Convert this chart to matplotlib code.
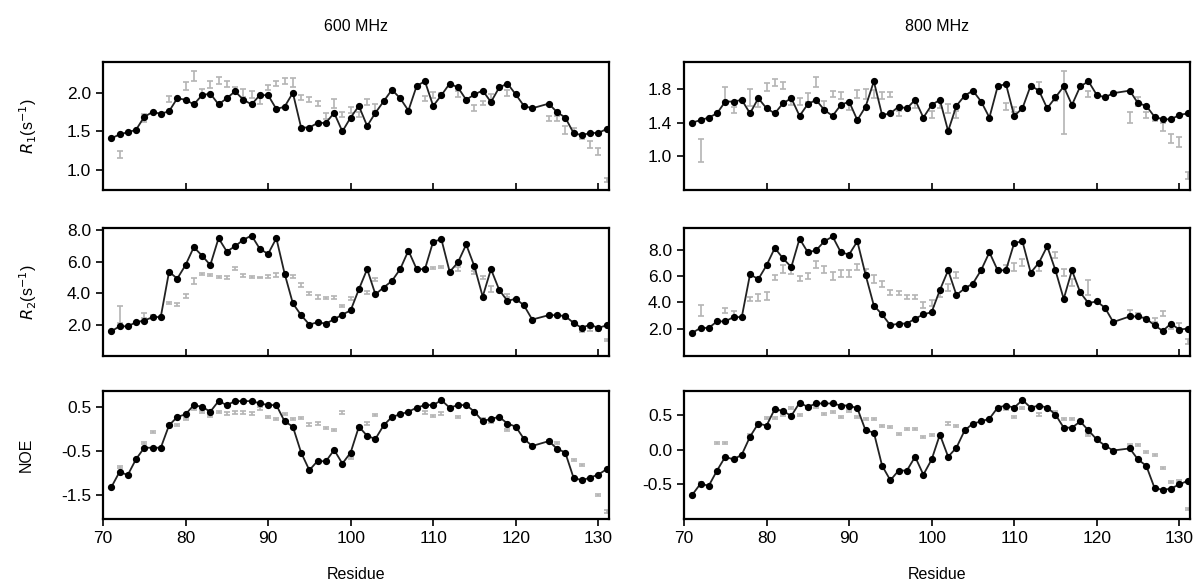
import matplotlib
matplotlib.use("Agg")
import matplotlib.pyplot as plt

plt.rcParams['font.family'] = ['Liberation Sans', 'DejaVu Sans']

# residues with calculated values (123 missing)
residues = list(range(71, 123)) + list(range(124, 132))

# calculated (black line) values
r1_600 = [1.41, 1.46, 1.49, 1.52, 1.69, 1.75, 1.73, 1.76, 1.93, 1.91, 1.85, 1.97, 1.99, 1.85, 1.93,
          2.02, 1.91, 1.85, 1.97, 1.97, 1.79, 1.82, 2.00, 1.55, 1.55, 1.61, 1.61, 1.74, 1.50, 1.68,
          1.83, 1.57, 1.74, 1.89, 2.04, 1.93, 1.77, 2.09, 2.15, 1.83, 1.97, 2.12, 2.07, 1.91, 1.98,
          2.03, 1.88, 2.07, 2.12, 1.98, 1.83, 1.80, 1.86, 1.75, 1.68, 1.48, 1.45, 1.48, 1.48, 1.53]
r1_800 = [1.40, 1.43, 1.46, 1.51, 1.65, 1.65, 1.67, 1.51, 1.69, 1.57, 1.51, 1.63, 1.69, 1.48, 1.62,
          1.67, 1.55, 1.48, 1.61, 1.65, 1.43, 1.59, 1.89, 1.49, 1.51, 1.59, 1.57, 1.67, 1.46, 1.61,
          1.67, 1.30, 1.60, 1.72, 1.78, 1.65, 1.46, 1.83, 1.86, 1.48, 1.57, 1.84, 1.78, 1.57, 1.70,
          1.83, 1.61, 1.83, 1.89, 1.73, 1.70, 1.75, 1.78, 1.63, 1.60, 1.47, 1.44, 1.44, 1.49, 1.51]
r2_600 = [1.57, 1.89, 1.89, 2.15, 2.26, 2.47, 2.49, 5.36, 4.93, 5.79, 6.93, 6.39, 5.79, 7.50, 6.65,
          6.99, 7.40, 7.67, 6.82, 6.50, 7.50, 5.25, 3.35, 2.60, 2.00, 2.15, 2.06, 2.34, 2.64, 2.90,
          4.25, 5.53, 3.93, 4.36, 4.78, 5.53, 6.71, 5.53, 5.53, 7.29, 7.42, 5.36, 5.96, 7.10, 5.70,
          3.78, 5.53, 4.21, 3.50, 3.65, 3.22, 2.32, 2.60, 2.60, 2.54, 2.11, 1.79, 2.00, 1.79, 1.95]
r2_800 = [1.67, 2.05, 2.05, 2.55, 2.55, 2.88, 2.88, 6.16, 5.78, 6.84, 8.17, 7.37, 6.71, 8.88, 7.84,
          7.99, 8.68, 9.05, 7.84, 7.67, 8.68, 6.11, 3.76, 3.08, 2.25, 2.38, 2.38, 2.76, 3.08, 3.26,
          4.95, 6.46, 4.57, 5.07, 5.45, 6.48, 7.84, 6.46, 6.46, 8.55, 8.68, 6.28, 7.04, 8.30, 6.46,
          4.27, 6.46, 4.77, 3.94, 4.09, 3.59, 2.50, 2.93, 2.93, 2.76, 2.25, 1.82, 2.38, 1.92, 2.00]
noe_600 = [-1.33, -0.98, -1.05, -0.69, -0.43, -0.43, -0.43, 0.08, 0.27, 0.33, 0.54, 0.50, 0.39, 0.63, 0.54,
           0.63, 0.63, 0.63, 0.58, 0.54, 0.54, 0.17, 0.05, -0.54, -0.94, -0.73, -0.74, -0.48, -0.79, -0.54,
           0.05, -0.16, -0.23, 0.08, 0.27, 0.33, 0.39, 0.48, 0.54, 0.54, 0.65, 0.48, 0.54, 0.54, 0.39,
           0.17, 0.23, 0.27, 0.12, 0.05, -0.23, -0.39, -0.28, -0.45, -0.54, -1.11, -1.17, -1.11, -1.04, -0.92]
noe_800 = [-0.65, -0.49, -0.52, -0.30, -0.10, -0.14, -0.07, 0.19, 0.38, 0.35, 0.59, 0.56, 0.49, 0.68, 0.62,
           0.67, 0.67, 0.67, 0.64, 0.64, 0.60, 0.28, 0.25, -0.23, -0.44, -0.30, -0.30, -0.10, -0.36, -0.14,
           0.22, -0.10, 0.03, 0.28, 0.38, 0.41, 0.45, 0.61, 0.64, 0.61, 0.72, 0.61, 0.64, 0.61, 0.51,
           0.32, 0.32, 0.41, 0.28, 0.15, 0.06, -0.01, 0.02, -0.14, -0.23, -0.55, -0.58, -0.56, -0.50, -0.45]

# experimental (grey error bars)
r1_600_res = [72, 75, 78, 80, 81, 82, 83, 84, 85, 86, 87, 88, 89, 90, 91, 92, 93, 94, 95, 96, 97, 98,
              99, 100, 101, 102, 103, 109, 110, 111, 113, 115, 116, 117, 119, 124, 125, 126, 127, 128,
              129, 130, 131]
r1_600_exp = [1.20, 1.67, 1.92, 2.09, 2.22, 2.01, 2.11, 2.16, 2.11, 2.04, 2.00, 1.98, 1.90, 2.07, 2.12,
              2.15, 2.13, 1.94, 1.91, 1.86, 1.70, 1.86, 1.72, 1.78, 1.72, 1.88, 1.81, 1.93, 1.97, 1.97,
              1.99, 1.80, 1.87, 1.94, 2.00, 1.67, 1.67, 1.52, 1.51, 1.43, 1.33, 1.24, 0.87]
r1_600_err = [0.05, 0.05, 0.04, 0.05, 0.06, 0.04, 0.05, 0.04, 0.04, 0.04, 0.05, 0.05, 0.04, 0.03, 0.03,
              0.04, 0.06, 0.03, 0.03, 0.03, 0.04, 0.06, 0.03, 0.04, 0.03, 0.04, 0.04, 0.03, 0.04, 0.03,
              0.04, 0.04, 0.03, 0.04, 0.04, 0.03, 0.03, 0.05, 0.04, 0.03, 0.04, 0.05, 0.02]

r1_800_res = [72, 75, 76, 78, 79, 80, 81, 82, 83, 84, 85, 86, 87, 88, 89, 90, 91, 92, 93, 94, 95, 96,
              98, 100, 101, 102, 103, 109, 110, 113, 115, 116, 119, 124, 125, 126, 127, 128, 129, 130, 131]
r1_800_exp = [1.07, 1.72, 1.55, 1.70, 1.63, 1.82, 1.88, 1.84, 1.65, 1.65, 1.70, 1.88, 1.61, 1.74, 1.72,
              1.59, 1.74, 1.74, 1.74, 1.72, 1.73, 1.51, 1.61, 1.50, 1.61, 1.57, 1.50, 1.59, 1.56, 1.84,
              1.69, 1.64, 1.74, 1.46, 1.65, 1.49, 1.45, 1.35, 1.21, 1.17, 0.77]
r1_800_err = [0.14, 0.10, 0.04, 0.10, 0.05, 0.05, 0.04, 0.04, 0.04, 0.04, 0.05, 0.06, 0.05, 0.04, 0.04,
              0.04, 0.05, 0.06, 0.05, 0.04, 0.03, 0.03, 0.04, 0.04, 0.04, 0.05, 0.04, 0.04, 0.03, 0.04,
              0.03, 0.37, 0.04, 0.07, 0.05, 0.04, 0.03, 0.05, 0.05, 0.06, 0.04]

r2_600_res = [72, 75, 76, 78, 79, 80, 81, 82, 83, 84, 85, 86, 87, 88, 89, 90, 91, 92, 93, 94, 95, 96,
              97, 98, 99, 100, 102, 103, 109, 110, 111, 113, 115, 116, 117, 119, 124, 125, 126, 127,
              128, 129, 130, 131]
r2_600_exp = [2.64, 2.58, 2.54, 3.39, 3.28, 3.82, 4.78, 5.21, 5.15, 5.04, 5.00, 5.58, 5.10, 5.04, 5.00,
              5.06, 5.15, 5.15, 5.04, 4.50, 3.99, 3.76, 3.68, 3.74, 3.18, 3.65, 4.03, 4.89, 5.53, 5.58,
              5.64, 5.53, 5.32, 5.00, 4.25, 3.86, 2.58, 2.64, 2.43, 2.11, 1.57, 1.68, 1.68, 1.00]
r2_600_err = [0.55, 0.15, 0.08, 0.08, 0.12, 0.15, 0.20, 0.08, 0.06, 0.08, 0.08, 0.08, 0.10, 0.08, 0.06,
              0.08, 0.12, 0.10, 0.10, 0.12, 0.10, 0.10, 0.06, 0.08, 0.06, 0.10, 0.10, 0.10, 0.06, 0.06,
              0.06, 0.12, 0.08, 0.10, 0.20, 0.10, 0.06, 0.06, 0.10, 0.10, 0.06, 0.08, 0.08, 0.06]

r2_800_res = [72, 75, 76, 78, 79, 80, 81, 82, 83, 84, 85, 86, 87, 88, 89, 90, 91, 92, 93, 94, 95, 96,
              97, 98, 99, 100, 101, 102, 103, 109, 110, 111, 113, 115, 116, 117, 119, 124, 125, 126,
              127, 128, 129, 130, 131]
r2_800_exp = [3.39, 3.39, 3.13, 4.27, 4.39, 4.52, 5.90, 6.58, 6.41, 5.83, 6.03, 6.91, 6.53, 6.03, 6.21,
              6.21, 6.71, 6.28, 5.78, 5.40, 4.77, 4.70, 4.39, 4.39, 3.80, 3.94, 4.64, 5.15, 6.11, 6.61,
              6.71, 7.04, 6.71, 7.62, 6.28, 5.53, 5.15, 3.26, 3.01, 2.76, 2.68, 3.13, 2.13, 2.25, 1.00]
r2_800_err = [0.45, 0.20, 0.20, 0.15, 0.25, 0.30, 0.20, 0.30, 0.25, 0.20, 0.20, 0.30, 0.25, 0.30, 0.25,
              0.25, 0.25, 0.25, 0.30, 0.25, 0.20, 0.15, 0.15, 0.15, 0.25, 0.25, 0.20, 0.25, 0.25, 0.25,
              0.30, 0.25, 0.30, 0.25, 0.25, 0.30, 0.55, 0.20, 0.15, 0.15, 0.15, 0.20, 0.20, 0.20, 0.20]

noe_600_res = [72, 75, 76, 78, 79, 80, 81, 82, 83, 84, 85, 86, 87, 88, 89, 90, 91, 92, 93, 94, 95, 96,
               97, 98, 99, 100, 101, 102, 103, 109, 110, 111, 113, 116, 117, 119, 124, 125, 127, 128,
               130, 131]
noe_600_exp = [-0.86, -0.33, -0.07, 0.08, 0.08, 0.23, 0.46, 0.39, 0.29, 0.39, 0.35, 0.37, 0.37, 0.35,
               0.46, 0.27, 0.23, 0.33, 0.23, 0.25, 0.10, 0.12, 0.02, -0.03, 0.37, -0.67, 0.05, 0.12,
               0.31, 0.37, 0.30, 0.35, 0.27, 0.23, 0.16, -0.03, -0.28, -0.33, -0.71, -0.83, -1.50, -1.88]
noe_600_err = 0.025

noe_800_res = [72, 74, 75, 78, 79, 80, 81, 82, 83, 84, 85, 86, 87, 88, 89, 90, 91, 92, 93, 94, 95, 96,
               97, 98, 99, 100, 102, 103, 109, 110, 111, 113, 115, 116, 117, 119, 124, 125, 126, 127,
               128, 129, 130, 131]
noe_800_exp = [-0.48, 0.10, 0.10, 0.22, 0.38, 0.46, 0.46, 0.50, 0.60, 0.50, 0.60, 0.62, 0.52, 0.54,
               0.48, 0.56, 0.48, 0.44, 0.44, 0.35, 0.33, 0.23, 0.30, 0.30, 0.19, 0.21, 0.38, 0.35,
               0.59, 0.48, 0.61, 0.51, 0.54, 0.45, 0.44, 0.22, 0.07, 0.07, -0.03, -0.07, -0.26, -0.46,
               -0.45, -0.85]
noe_800_err = 0.015

fig = plt.figure(figsize=(11.94, 5.88), dpi=100)

W, H = 1194.0, 588.0
col_left = [103, 684]
col_width = 506
row_top = [62, 228, 391]
row_height = 128

panels = [
    # row, col, calc, exp_res, exp, err, ylim, yticks, ylabel
    (0, 0, r1_600, r1_600_res, r1_600_exp, r1_600_err, (0.74, 2.40), [1.0, 1.5, 2.0], '$\\it{R}_1$(s$^{-1}$)'),
    (0, 1, r1_800, r1_800_res, r1_800_exp, r1_800_err, (0.60, 2.12), [1.0, 1.4, 1.8], None),
    (1, 0, r2_600, r2_600_res, r2_600_exp, r2_600_err, (0.0, 8.15), [2, 4, 6, 8], '$\\it{R}_2$(s$^{-1}$)'),
    (1, 1, r2_800, r2_800_res, r2_800_exp, r2_800_err, (-0.1, 9.7), [2, 4, 6, 8], None),
    (2, 0, noe_600, noe_600_res, noe_600_exp, noe_600_err, (-2.05, 0.86), [-1.5, -0.5, 0.5], 'NOE'),
    (2, 1, noe_800, noe_800_res, noe_800_exp, noe_800_err, (-1.0, 0.85), [-0.5, 0.0, 0.5], None),
]

for row, col, calc, eres, exp, err, ylim, yticks, ylabel in panels:
    left = col_left[col] / W
    bottom = 1 - (row_top[row] + row_height) / H
    ax = fig.add_axes([left, bottom, col_width / W, row_height / H])
    ax.errorbar(eres, exp, yerr=err, fmt='none', ecolor='#b4b4b4', elinewidth=1.2,
                capsize=2.5, capthick=1.2, zorder=1)
    ax.plot(residues, calc, color='#222222', linewidth=1.3, marker='o', markersize=4.2,
            markerfacecolor='black', markeredgecolor='black', zorder=3)
    ax.set_xlim(70, 131.3)
    ax.set_ylim(*ylim)
    ax.set_xticks(range(70, 131, 10))
    ax.set_yticks(yticks)
    ax.set_yticklabels(['%.1f' % t for t in yticks])
    for s in ax.spines.values():
        s.set_linewidth(1.6)
    ax.tick_params(axis='y', direction='out', length=5, width=1.2, labelsize=12.5)
    if row < 2:
        ax.tick_params(axis='x', direction='in', length=5, width=1.2, labelbottom=False)
    else:
        ax.tick_params(axis='x', direction='out', length=5, width=1.2, labelsize=12.5)
        ax.set_xlabel('Residue', fontsize=11.5, labelpad=15)
    if ylabel:
        ax.set_ylabel(ylabel, fontsize=11.5, labelpad=20)
    if row == 0:
        ax.set_title(['600 MHz', '800 MHz'][col], fontsize=11.5, pad=22)

fig.savefig('out.png', dpi=100)
